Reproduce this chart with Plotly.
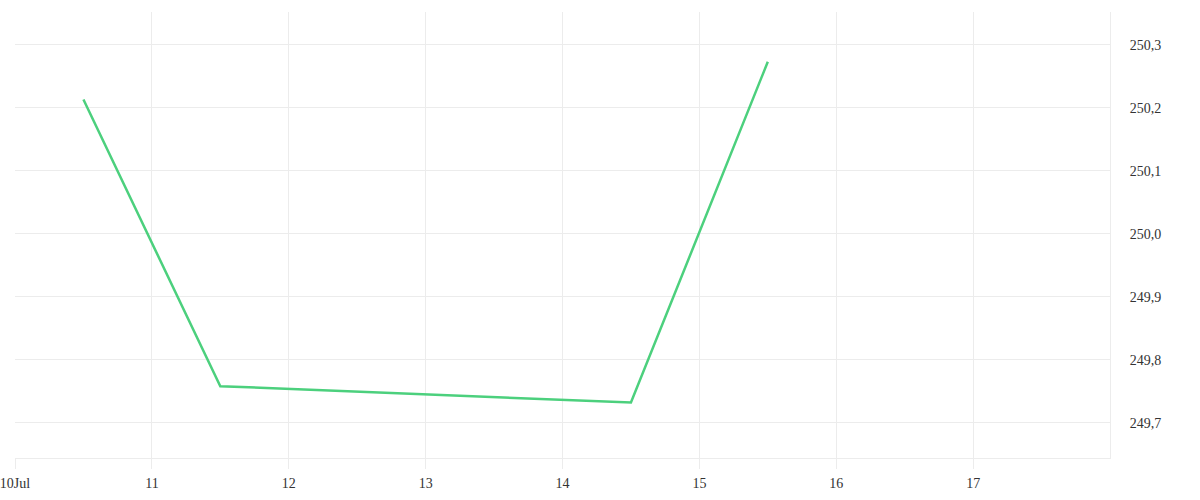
import plotly.graph_objects as go

# Данные графика
dates = ['2024-07-10 12:00', '2024-07-11 12:00', '2024-07-14 12:00', '2024-07-15 12:00']
values = [250.213, 249.758, 249.732, 250.273]

tick_dates = ['2024-07-10', '2024-07-11', '2024-07-12', '2024-07-13',
              '2024-07-14', '2024-07-15', '2024-07-16', '2024-07-17']
tick_labels = ['10Jul', '11', '12', '13', '14', '15', '16', '17']

grid = '#ececec'

fig = go.Figure()
fig.add_trace(go.Scatter(x=dates, y=values, mode='lines',
                         line=dict(color='#4cd07d', width=2.5),
                         hoverinfo='x+y'))

fig.update_layout(
    width=1200, height=500,
    margin=dict(l=15, r=90, t=12, b=42),
    paper_bgcolor='white', plot_bgcolor='white',
    showlegend=False,
    separators=',.',
    font=dict(family='Liberation Serif, Times New Roman, serif', size=14, color='#333333'),
)

fig.update_xaxes(
    type='date', range=['2024-07-10', '2024-07-18'],
    tickvals=tick_dates, ticktext=tick_labels,
    showgrid=True, gridcolor=grid, gridwidth=1,
    showline=True, linecolor=grid, linewidth=1,
    ticks='outside', ticklen=10, tickcolor=grid,
    ticklabeloverflow='allow', ticklabelstandoff=2,
    zeroline=False, automargin=False,
)

fig.update_yaxes(
    side='right', range=[249.644, 250.352],
    dtick=0.1, tick0=249.7, tickformat='.1f',
    showgrid=True, gridcolor=grid, gridwidth=1,
    showline=True, linecolor=grid, linewidth=1,
    ticks='outside', ticklen=14, tickcolor='white',
    ticklabelstandoff=2,
    zeroline=False, automargin=False,
)

# убираем стандартный отступ страницы, чтобы подпись 10Jul не обрезалась
fig.write_html('out.html', config={'displayModeBar': False},
               post_script="document.body.style.margin='0';")
